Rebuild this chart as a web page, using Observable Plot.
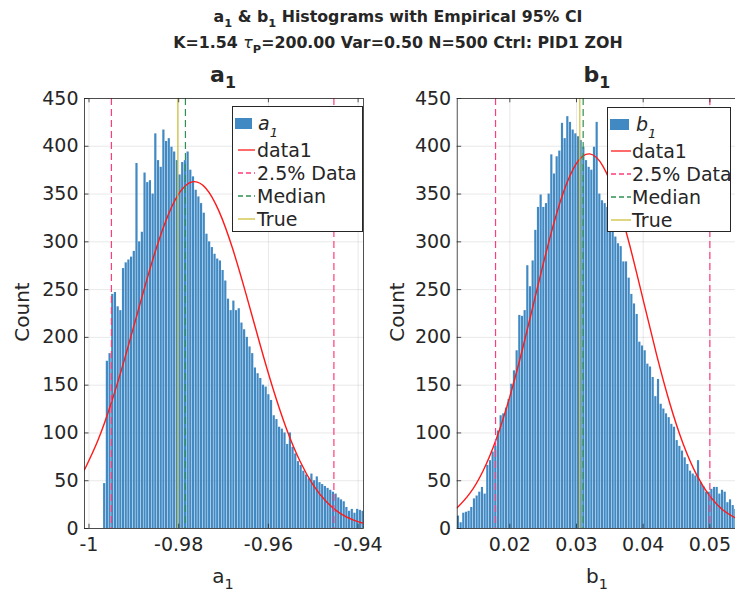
<!DOCTYPE html>
<html><head><meta charset="utf-8">
<script src="https://cdn.jsdelivr.net/npm/d3@7"></script>
<script src="https://cdn.jsdelivr.net/npm/@observablehq/plot@0.6"></script>
<style>
body{margin:0;background:#fff;}
#fig{position:relative;width:735px;height:594px;overflow:hidden;font-family:"DejaVu Sans",sans-serif;color:#262626;background:#fff;}
.lbl{position:absolute;transform:translate(-50%,-50%);white-space:nowrap;line-height:1;}
.lbl sub{font-size:72%;vertical-align:-0.4em;line-height:0;}
.panel{position:absolute;top:0;overflow:visible;}
</style></head>
<body><div id="fig"></div>
<script>
// ---------- data ----------
const yTicks = [0, 50, 100, 150, 200, 250, 300, 350, 400, 450];
const a1Ticks = [-1, -0.98, -0.96, -0.94];
const b1Ticks = [0.02, 0.03, 0.04, 0.05];

const a1BinStart = -0.9968, a1BinWidth = 0.0006;
const a1Counts = [47,175,183,245,247,232,228,272,278,281,284,290,382,300,310,372,362,364,350,413,385,378,417,405,408,399,394,385,370,383,385,394,375,368,354,347,340,330,308,300,294,287,282,280,270,259,240,228,238,228,230,215,208,200,190,183,168,162,157,150,148,140,134,118,114,106,104,100,88,100,85,78,70,66,60,56,52,57,50,54,48,46,44,42,40,38,36,32,30,28,22,18,20,16,20,19,18];

const b1BinStart = 0.0121, b1BinWidth = 0.0004;
const b1Counts = [13,6,16,17,18,22,31,34,38,43,36,66,71,80,86,102,118,120,126,135,151,165,186,223,222,228,275,253,280,312,336,349,336,340,350,391,371,389,395,424,408,431,425,417,413,410,406,399,385,378,375,399,425,350,343,340,336,320,310,305,298,295,279,279,262,245,235,224,195,191,186,172,169,158,138,156,130,125,120,116,109,106,92,86,81,74,67,60,57,55,71,48,44,38,38,41,43,43,36,40,38,27,30,24,20];

const a1FitX = [-1.001,-0.998,-0.995,-0.992,-0.989,-0.986,-0.983,-0.980,-0.977,-0.974,-0.971,-0.968,-0.965,-0.962,-0.959,-0.956,-0.953,-0.950,-0.947,-0.944,-0.941,-0.9388];
const a1FitY = [61.5,92.4,131.9,178.3,228.6,278,320.3,350.1,362.7,356.4,331.9,293.2,245.5,194.9,146.7,104.7,70.9,45.5,27.7,15.9,8.7,5.4];
const b1FitX = [0.0121,0.014,0.016,0.018,0.020,0.022,0.024,0.026,0.028,0.030,0.032,0.034,0.036,0.038,0.040,0.042,0.044,0.046,0.048,0.050,0.052,0.0541];
const b1FitY = [21.6,36.7,60.5,94.2,138,190.5,247.9,303.9,351.1,382.2,392,378.8,344.9,295.9,239.2,182.2,130.8,88.4,56.4,33.8,19.1,9.9];

const a1CI = [-0.995, -0.9454];
const a1Median = [-0.9785];
const a1True = [-0.9802];
const b1CI = [0.01786, 0.0500];
const b1Median = [0.0310];
const b1True = [0.0305];

const a1Domain = [-1.001, -0.9388];
const b1Domain = [0.01211, 0.0541];

// ---------- colours ----------
const barFill = "#4089c3";
const fitColor = "#ff1a1a";
const ciColor = "#ff3d78";
const medColor = "#2f9050";
const trueColor = "#cdc23a";
const axisColor = "#262626";

const fig = document.getElementById("fig");

function panel(counts, start, width, fitX, fitY, ci, med, tru, domain, ticks, left, mL, mR) {
  const bins = counts.map((c, i) => ({x1: start + i * width, x2: start + (i + 1) * width, count: c}));
  const fit = fitX.map((x, i) => ({x, y: fitY[i]}));
  const span = domain[1] - domain[0];
  const tk = span * 0.016; // inward tick length in x data units
  const svg = Plot.plot({
    width: 370, height: 594,
    marginLeft: mL, marginRight: mR, marginTop: 98, marginBottom: 66,
    style: {fontFamily: "DejaVu Sans, sans-serif", fontSize: "19px", color: axisColor, background: "transparent", overflow: "visible"},
    x: {domain, ticks, tickFormat: d => String(d), tickSize: 0, tickPadding: 9, grid: true, label: null},
    y: {domain: [0, 450], ticks: yTicks, tickSize: 0, tickPadding: 6, grid: true, label: null},
    marks: [
      Plot.rectY(bins, {x1: "x1", x2: "x2", y: "count", fill: barFill, insetLeft: 0.25, insetRight: 0.25, clip: true}),
      Plot.line(fit, {x: "x", y: "y", stroke: fitColor, strokeWidth: 1.4, curve: "natural", clip: true}),
      Plot.ruleX(ci, {stroke: ciColor, strokeWidth: 1.2, strokeDasharray: "7,4"}),
      Plot.ruleX(med, {stroke: medColor, strokeWidth: 1.2, strokeDasharray: "7,4"}),
      Plot.ruleX(tru, {stroke: trueColor, strokeWidth: 1.2}),
      Plot.ruleX(ticks, {y1: 0, y2: 4.5, stroke: axisColor, strokeWidth: 0.8}),
      Plot.ruleX(ticks, {y1: 445.5, y2: 450, stroke: axisColor, strokeWidth: 0.8}),
      Plot.ruleY(yTicks, {x1: domain[0], x2: domain[0] + tk, stroke: axisColor, strokeWidth: 0.8}),
      Plot.frame({stroke: axisColor, strokeWidth: 0.8})
    ]
  });
  svg.classList.add("panel");
  svg.style.left = left + "px";
  svg.style.position = "absolute";
  fig.appendChild(svg);
}

panel(a1Counts, a1BinStart, a1BinWidth, a1FitX, a1FitY, a1CI, a1Median, a1True, a1Domain, a1Ticks, 0, 84, 7);
panel(b1Counts, b1BinStart, b1BinWidth, b1FitX, b1FitY, b1CI, b1Median, b1True, b1Domain, b1Ticks, 370, 86.7, 3.3);

function label(html, x, y, css, rot) {
  const d = document.createElement("div");
  d.className = "lbl";
  d.style.left = x + "px";
  d.style.top = y + "px";
  Object.assign(d.style, css || {});
  if (rot) d.style.transform = "translate(-50%,-50%) rotate(-90deg)";
  d.innerHTML = html;
  fig.appendChild(d);
}

label("a<sub>1</sub> &amp; b<sub>1</sub> Histograms with Empirical 95% CI", 398, 17, {fontSize: "15.8px", fontWeight: "bold"});
label("K=1.54 <i style='font-weight:normal'>τ</i><sub>P</sub>=200.00 Var=0.50 N=500 Ctrl: PID1 ZOH", 398, 43, {fontSize: "15.8px", fontWeight: "bold"});
label("a<sub>1</sub>", 223, 75, {fontSize: "22px", fontWeight: "bold"});
label("b<sub>1</sub>", 597, 75, {fontSize: "22px", fontWeight: "bold"});
label("Count", 22, 312, {fontSize: "20px"}, true);
label("Count", 397, 312, {fontSize: "20px"}, true);
label("a<sub>1</sub>", 223, 576, {fontSize: "20px"});
label("b<sub>1</sub>", 597, 576, {fontSize: "20px"});

// ---------- legends ----------
const NS = "http://www.w3.org/2000/svg";
function el(tag, attrs, parent) {
  const e = document.createElementNS(NS, tag);
  for (const k in attrs) e.setAttribute(k, attrs[k]);
  parent.appendChild(e);
  return e;
}
function legend(L, T, W, H, name, patch, lineX, textX, nameX) {
  const s = document.createElementNS(NS, "svg");
  s.setAttribute("width", W); s.setAttribute("height", H);
  s.style.position = "absolute"; s.style.left = L + "px"; s.style.top = T + "px";
  s.style.fontFamily = "DejaVu Sans, sans-serif"; s.style.fontSize = "19px";
  el("rect", {x: 0.5, y: 0.5, width: W - 1, height: H - 1, fill: "#fff", stroke: axisColor, "stroke-width": 1}, s);
  const rows = [18, 44, 67, 90, 113];
  el("rect", {x: patch[0], y: rows[0] - 6, width: patch[1] - patch[0], height: 11, fill: barFill}, s);
  const t0 = el("text", {x: nameX, y: rows[0] + 6, fill: axisColor, "font-style": "italic"}, s);
  t0.textContent = name;
  const sub = el("tspan", {dy: 7, "font-size": 13}, t0);
  sub.textContent = "1";
  const items = [["data1", fitColor, null], ["2.5% Data", ciColor, "5,3"], ["Median", medColor, "5,3"], ["True", trueColor, null]];
  items.forEach((it, i) => {
    const y = rows[i + 1];
    const ln = el("line", {x1: lineX[0], x2: lineX[1], y1: y, y2: y, stroke: it[1], "stroke-width": 1.3}, s);
    if (it[2]) ln.setAttribute("stroke-dasharray", it[2]);
    const t = el("text", {x: textX, y: y + 7, fill: axisColor}, s);
    t.textContent = it[0];
  });
  fig.appendChild(s);
}
legend(232, 106, 131, 126, "a", [3, 20], [6, 23], 25, 26);
legend(607, 107, 124, 125, "b", [3, 22], [4, 24], 25, 29);
</script></body></html>
